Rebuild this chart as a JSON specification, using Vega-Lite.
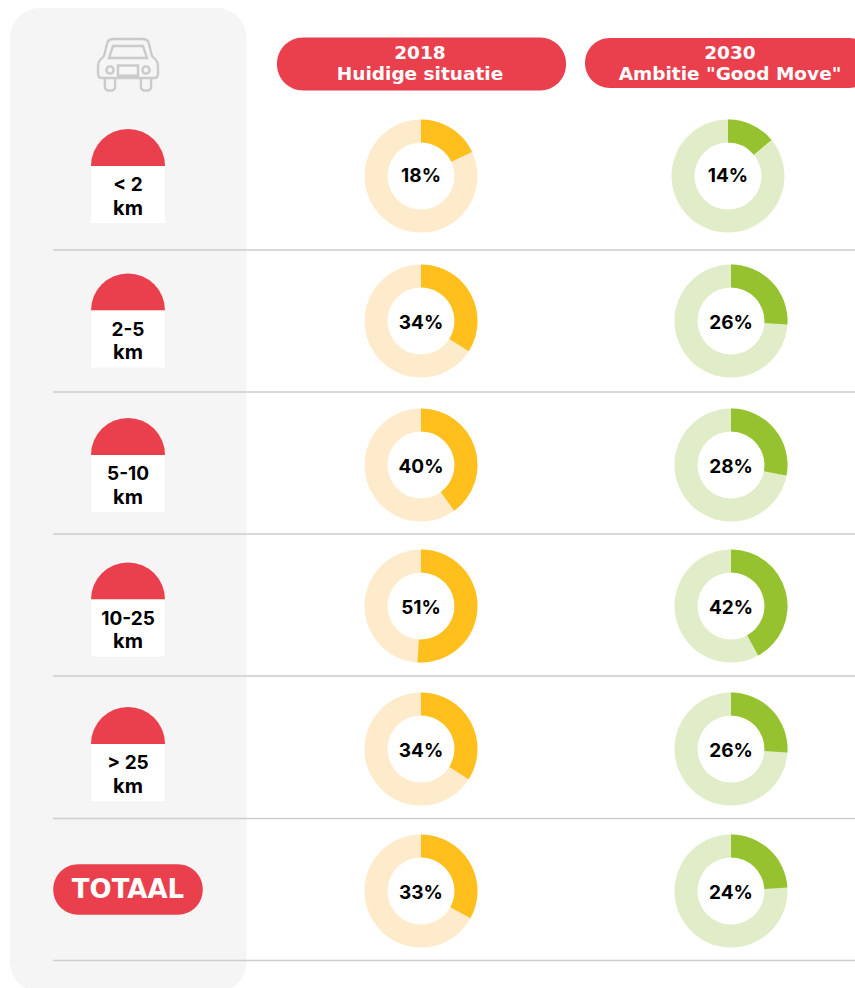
{
  "$schema": "https://vega.github.io/schema/vega-lite/v6.json",
  "width": 855,
  "height": 988,
  "padding": 0,
  "autosize": {"type": "fit", "contains": "padding"},
  "background": "#ffffff",
  "view": {"stroke": null},
  "config": {"text": {"font": "Inter", "fontWeight": "bold"}},
  "datasets": {
    "donuts": [
      {"row": 1, "col": 1, "pct": 18, "label": "18%"},
      {"row": 1, "col": 2, "pct": 14, "label": "14%"},
      {"row": 2, "col": 1, "pct": 34, "label": "34%"},
      {"row": 2, "col": 2, "pct": 26, "label": "26%"},
      {"row": 3, "col": 1, "pct": 40, "label": "40%"},
      {"row": 3, "col": 2, "pct": 28, "label": "28%"},
      {"row": 4, "col": 1, "pct": 51, "label": "51%"},
      {"row": 4, "col": 2, "pct": 42, "label": "42%"},
      {"row": 5, "col": 1, "pct": 34, "label": "34%"},
      {"row": 5, "col": 2, "pct": 26, "label": "26%"},
      {"row": 6, "col": 1, "pct": 33, "label": "33%"},
      {"row": 6, "col": 2, "pct": 24, "label": "24%"}
    ],
    "headers": [
      {"row": 0, "col": 1, "line1": "2018", "line2": "Huidige situatie"},
      {"row": 0, "col": 2, "line1": "2030", "line2": "Ambitie \"Good Move\""}
    ],
    "distances": [
      {"row": 1, "col": 0, "line1": "< 2", "line2": "km"},
      {"row": 2, "col": 0, "line1": "2-5", "line2": "km"},
      {"row": 3, "col": 0, "line1": "5-10", "line2": "km"},
      {"row": 4, "col": 0, "line1": "10-25", "line2": "km"},
      {"row": 5, "col": 0, "line1": "> 25", "line2": "km"}
    ]
  },
  "resolve": {"scale": {"y": "independent"}},
  "layer": [
    {
      "encoding": {
        "x": {"field": "col", "type": "quantitative", "axis": null,
          "scale": {"domain": [-1, -0.5, 0, 1, 2, 3], "range": [10, 53, 128, 421, 731, 855], "nice": false, "zero": false}},
        "y": {"field": "row", "type": "quantitative", "axis": null,
          "scale": {"domain": [-1, 0, 1, 1.5, 2, 2.5, 3, 3.5, 4, 4.5, 5, 5.5, 6, 6.5, 7],
            "range": [8, 64, 176, 250, 321, 392, 465, 534, 606, 676, 749, 818.5, 891, 960.5, 992], "nice": false, "zero": false}}
      },
      "layer": [
        {
          "data": {"values": [{"row": -1, "row2": 7, "col": 0}]},
          "mark": {"type": "rect", "width": 236.5, "xOffset": 0.25, "fill": "#F5F5F5", "cornerRadius": 30},
          "encoding": {"y2": {"field": "row2"}}
        },
        {
          "data": {"values": [
            {"row": 1.5, "col": -0.5, "col2": 3},
            {"row": 2.5, "col": -0.5, "col2": 3},
            {"row": 3.5, "col": -0.5, "col2": 3},
            {"row": 4.5, "col": -0.5, "col2": 3},
            {"row": 5.5, "col": -0.5, "col2": 3},
            {"row": 6.5, "col": -0.5, "col2": 3}
          ]},
          "mark": {"type": "rule", "stroke": "#CDCDCD", "strokeWidth": 1.3},
          "encoding": {"x2": {"field": "col2"}}
        },
        {
          "data": {"name": "headers"},
          "transform": [{"filter": "datum.col == 1"}],
          "mark": {"type": "rect", "width": 289, "height": 53, "xOffset": 0.5, "fill": "#EA3F4D", "cornerRadius": 26}
        },
        {
          "data": {"name": "headers"},
          "transform": [{"filter": "datum.col == 2"}],
          "mark": {"type": "rect", "width": 289, "height": 50, "xOffset": -1.5, "yOffset": -1, "fill": "#EA3F4D", "cornerRadius": 25}
        },
        {
          "data": {"name": "headers"},
          "mark": {"type": "text", "font": "DejaVu Sans", "fontSize": 18.5, "fill": "#ffffff", "baseline": "middle", "dy": -11.5, "xOffset": -1},
          "encoding": {"text": {"field": "line1"}}
        },
        {
          "data": {"name": "headers"},
          "mark": {"type": "text", "font": "DejaVu Sans", "fontSize": 18.5, "fill": "#ffffff", "baseline": "middle", "dy": 10, "xOffset": -1},
          "encoding": {"text": {"field": "line2"}}
        },
        {
          "data": {"name": "donuts"},
          "transform": [{"filter": "!(datum.row == 1 && datum.col == 2)"}],
          "layer": [
            {
              "mark": {"type": "arc", "radius": 56.5, "radius2": 33.5, "theta": 0, "theta2": 6.2832},
              "encoding": {"color": {"condition": {"test": "datum.col == 1", "value": "#FEEBCB"}, "value": "#E1ECC9"}}
            },
            {
              "mark": {"type": "arc", "radius": 56.5, "radius2": 33.5},
              "encoding": {
                "theta": {"field": "pct", "type": "quantitative", "stack": null, "scale": {"domain": [0, 100], "range": [0, 6.2832]}},
                "color": {"condition": {"test": "datum.col == 1", "value": "#FFC01E"}, "value": "#95C22E"}
              }
            },
            {
              "transform": [{"filter": "datum.row > 1"}],
              "mark": {"type": "text", "fontSize": 19, "fill": "#000000", "baseline": "middle", "yOffset": 2},
              "encoding": {"text": {"field": "label"}}
            },
            {
              "transform": [{"filter": "datum.row == 1"}],
              "mark": {"type": "text", "fontSize": 19, "fill": "#000000", "baseline": "middle", "yOffset": 0},
              "encoding": {"text": {"field": "label"}}
            }
          ]
        },
        {
          "data": {"name": "donuts"},
          "transform": [{"filter": "datum.row == 1 && datum.col == 2"}],
          "layer": [
            {
              "mark": {"type": "arc", "radius": 56.5, "radius2": 33.5, "theta": 0, "theta2": 6.2832, "xOffset": -3, "fill": "#E1ECC9"}
            },
            {
              "mark": {"type": "arc", "radius": 56.5, "radius2": 33.5, "xOffset": -3, "fill": "#95C22E"},
              "encoding": {
                "theta": {"field": "pct", "type": "quantitative", "stack": null, "scale": {"domain": [0, 100], "range": [0, 6.2832]}}
              }
            },
            {
              "mark": {"type": "text", "fontSize": 19, "fill": "#000000", "baseline": "middle", "xOffset": -3},
              "encoding": {"text": {"field": "label"}}
            }
          ]
        },
        {
          "data": {"values": [{"row": 6, "col": 0, "label": "TOTAAL"}]},
          "layer": [
            {"mark": {"type": "rect", "width": 149.5, "height": 50.5, "yOffset": -1.5, "fill": "#EA3F4D", "cornerRadius": 25}},
            {"mark": {"type": "text", "font": "DejaVu Sans", "fontSize": 26, "fill": "#ffffff", "baseline": "middle", "yOffset": -1.5},
             "encoding": {"text": {"field": "label"}}}
          ]
        },
        {
          "data": {"values": [{"row": 0, "col": 0, "icon": "car"}]},
          "mark": {
            "type": "point", "filled": false, "stroke": "#CBCBCB", "strokeWidth": 2.4, "size": 3600, "opacity": 1, "yOffset": 1.5,
            "shape": "M-0.5,-0.883 L0.5,-0.883 Q0.667,-0.883 0.7,-0.717 L0.8,-0.317 L0.933,-0.183 Q1,-0.117 1,0.017 L1,0.283 Q1,0.417 0.867,0.417 L-0.867,0.417 Q-1,0.417 -1,0.283 L-1,0.017 Q-1,-0.117 -0.933,-0.183 L-0.8,-0.317 L-0.7,-0.717 Q-0.667,-0.883 -0.5,-0.883 Z M-0.5,-0.65 L0.5,-0.65 L0.633,-0.25 L-0.633,-0.25 Z M-0.333,0 L0.333,0 L0.333,0.34 L-0.333,0.34 Z M-0.72,0.15 A0.12,0.12 0 1 1 -0.48,0.15 A0.12,0.12 0 1 1 -0.72,0.15 Z M0.48,0.15 A0.12,0.12 0 1 1 0.72,0.15 A0.12,0.12 0 1 1 0.48,0.15 Z M-0.77,0.417 L-0.77,0.7 Q-0.77,0.84 -0.6,0.84 Q-0.43,0.84 -0.43,0.7 L-0.43,0.417 M0.43,0.417 L0.43,0.7 Q0.43,0.84 0.6,0.84 Q0.77,0.84 0.77,0.7 L0.77,0.417"
          }
        }
      ]
    },
    {
      "data": {"name": "distances"},
      "encoding": {
        "x": {"field": "col", "type": "quantitative", "axis": null},
        "y": {"field": "row", "type": "quantitative", "axis": null,
          "scale": {"domain": [1, 5], "range": [166, 744], "nice": false, "zero": false}}
      },
      "layer": [
        {"mark": {"type": "arc", "radius": 37, "radius2": 0, "theta": -1.5708, "theta2": 1.5708, "fill": "#EA3F4D"}},
        {"mark": {"type": "rect", "width": 73.5, "height": 57, "yOffset": 28.5, "fill": "#ffffff"}},
        {"mark": {"type": "text", "fontSize": 19, "fill": "#000000", "baseline": "middle", "yOffset": 19}, "encoding": {"text": {"field": "line1"}}},
        {"mark": {"type": "text", "fontSize": 20, "fill": "#000000", "baseline": "middle", "yOffset": 42.5}, "encoding": {"text": {"field": "line2"}}}
      ]
    }
  ]
}
